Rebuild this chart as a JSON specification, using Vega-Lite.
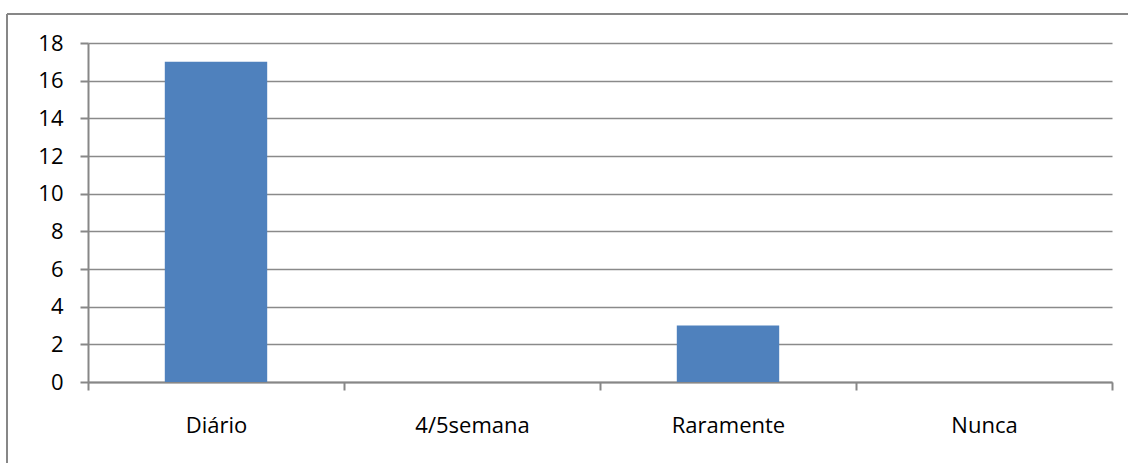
{
  "$schema": "https://vega.github.io/schema/vega-lite/v6.json",
  "width": 1121,
  "height": 449,
  "autosize": {"type": "none"},
  "padding": {"left": 7, "top": 14, "right": 0, "bottom": 0},
  "background": "white",
  "view": {"stroke": "#878787", "strokeWidth": 2, "strokeDash": [1121, 1570, 449, 0], "fill": "white"},
  "data": {
    "values": [
      {"categoria": "Diário", "valor": 17},
      {"categoria": "4/5semana", "valor": 0},
      {"categoria": "Raramente", "valor": 3},
      {"categoria": "Nunca", "valor": 0}
    ]
  },
  "mark": {"type": "bar", "color": "#4F81BD", "width": {"band": 0.4}},
  "encoding": {
    "x": {
      "field": "categoria",
      "type": "nominal",
      "sort": null,
      "scale": {"range": [81, 1105], "paddingInner": 0, "paddingOuter": 0},
      "axis": {
        "title": null,
        "labelAngle": 0,
        "offset": -81,
        "tickBand": "extent",
        "tickSize": 8,
        "tickColor": "#878787",
        "tickWidth": 2,
        "domainColor": "#878787",
        "domainWidth": 2,
        "labelFont": "Open Sans",
        "labelFontSize": 22,
        "labelColor": "#000000",
        "labelPadding": 25,
        "grid": false
      }
    },
    "y": {
      "field": "valor",
      "type": "quantitative",
      "scale": {"domain": [0, 18], "nice": false, "range": [368, 29]},
      "axis": {
        "title": null,
        "values": [0, 2, 4, 6, 8, 10, 12, 14, 16, 18],
        "offset": -81,
        "tickSize": 8,
        "tickColor": "#878787",
        "tickWidth": 2,
        "domainColor": "#878787",
        "domainWidth": 2,
        "grid": true,
        "gridColor": "#8a8a8a",
        "gridWidth": 1.5,
        "labelFont": "Open Sans",
        "labelFontSize": 22,
        "labelColor": "#000000",
        "labelPadding": 17
      }
    }
  }
}
